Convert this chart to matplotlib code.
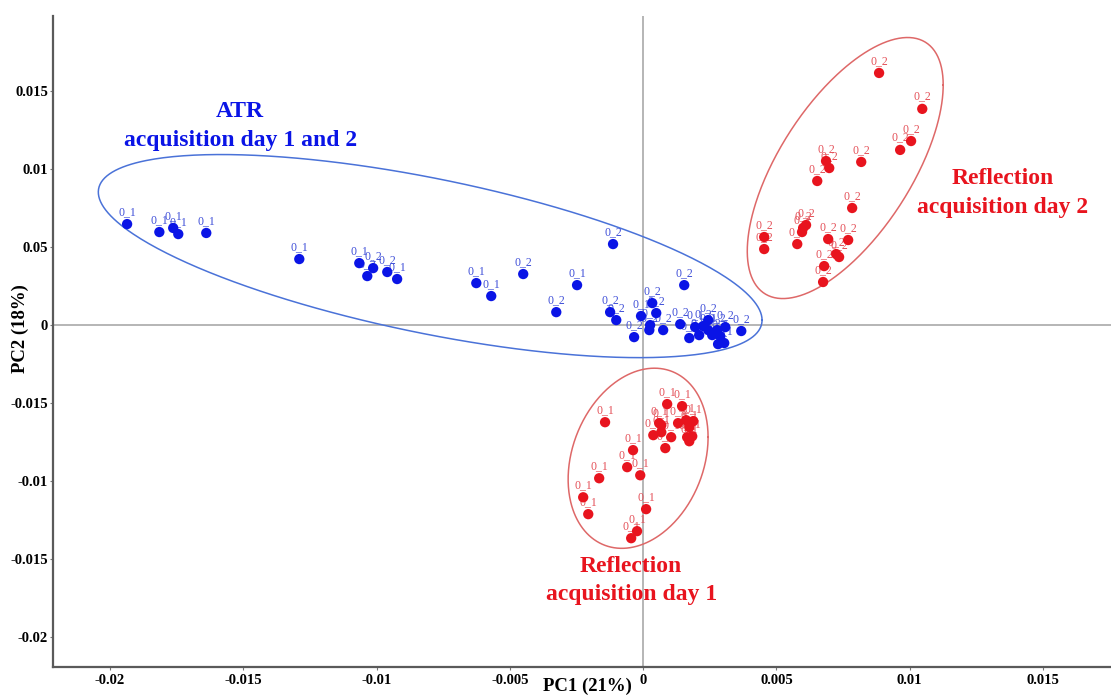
import numpy as np
import matplotlib
matplotlib.use("Agg")
import matplotlib.pyplot as plt

plt.rcParams['font.family'] = ['Liberation Serif', 'DejaVu Serif']

# ATR spectra (acquisition day 1 and 2)
atr_pc1 = [-0.01936, -0.01815, -0.01763, -0.01744, -0.01639, -0.01290, -0.01065,
           -0.01035, -0.01013, -0.00960, -0.00923, -0.00626, -0.00570, -0.00450,
           -0.00248, -0.00326, -0.00113, 0.00154, 0.00368, -0.00124, -0.00101,
           -0.00034, -0.00008, 0.00034, 0.00049, 0.00023, 0.00026, 0.00075,
           0.00139, 0.00173, 0.00195, 0.00210, 0.00244, 0.00244, 0.00259,
           0.00278, 0.00289, 0.00281, 0.00304, 0.00308, 0.00225]
atr_pc2 = [0.00647, 0.00596, 0.00622, 0.00583, 0.00590, 0.00423, 0.00397,
           0.00314, 0.00365, 0.00340, 0.00295, 0.00269, 0.00186, 0.00327,
           0.00256, 0.00083, 0.00519, 0.00256, -0.00038, 0.00083, 0.00032,
           -0.00077, 0.00058, 0.00141, 0.00077, -0.00032, 0.00000, -0.00032,
           0.00006, -0.00083, -0.00013, -0.00064, 0.00032, -0.00032, -0.00064,
           -0.00032, -0.00071, -0.00122, -0.00115, -0.00013, -0.00006]
atr_labels = ["0_1", "0_1", "0_1", "0_1", "0_1", "0_1", "0_1", "0_2", "0_2", "0_2",
              "0_1", "0_1", "0_1", "0_2", "0_1", "0_2", "0_2", "0_2", "0_2", "0_2",
              "0_2", "0_2", "0_1", "0_2", "0_2", "0_2", "0_1", "0_2", "0_2", "0_2",
              "0_1", "0_2", "0_2", "0_1", "0_2", "0_2", "0_1", "0_1", "0_1", "0_2",
              "0_2"]

# Reflection spectra, acquisition day 1
refl1_pc1 = [-0.00143, 0.00090, 0.00146, 0.00060, 0.00038, 0.00068, 0.00105,
             0.00083, 0.00131, 0.00161, 0.00188, 0.00173, 0.00165, 0.00173,
             0.00184, -0.00038, -0.00060, -0.00011, -0.00165, -0.00225,
             -0.00206, 0.00011, -0.00023, -0.00045, 0.00068]
refl1_pc2 = [-0.00622, -0.00506, -0.00519, -0.00628, -0.00705, -0.00686, -0.00718,
             -0.00788, -0.00628, -0.00609, -0.00615, -0.00654, -0.00718, -0.00744,
             -0.00712, -0.00801, -0.00910, -0.00962, -0.00981, -0.01103,
             -0.01211, -0.01179, -0.01320, -0.01365, -0.00641]
refl1_labels = ["0_1"] * len(refl1_pc1)

# Reflection spectra, acquisition day 2
refl2_pc1 = [0.00885, 0.01047, 0.01005, 0.00964, 0.00818, 0.00686, 0.00698,
             0.00653, 0.00784, 0.00611, 0.00600, 0.00596, 0.00578, 0.00454,
             0.00454, 0.00694, 0.00769, 0.00724, 0.00735, 0.00679, 0.00675]
refl2_pc2 = [0.01615, 0.01385, 0.01179, 0.01122, 0.01045, 0.01051, 0.01006,
             0.00923, 0.00750, 0.00641, 0.00622, 0.00596, 0.00519, 0.00564,
             0.00487, 0.00551, 0.00545, 0.00455, 0.00436, 0.00378, 0.00276]
refl2_labels = ["0_2"] * len(refl2_pc1)

# Group ellipses: centre and two conjugate semi-axis vectors (PC1, PC2)
atr_ellipse = dict(center=(-0.00799, 0.00442), u=(0.01245, -0.00410), v=(0.0, 0.00505))
refl1_ellipse = dict(center=(-0.00019, -0.00853), u=(0.002625, 0.001346), v=(0.0, 0.00561))
refl2_ellipse = dict(center=(0.00758, 0.01006), u=(0.003675, 0.00532), v=(0.0, 0.00645))

x_ticks = [-0.02, -0.015, -0.01, -0.005, 0, 0.005, 0.01, 0.015]
x_tick_labels = ["-0.02", "-0.015", "-0.01", "-0.005", "0", "0.005", "0.01", "0.015"]
y_ticks = [0.015, 0.01, 0.005, 0, -0.005, -0.01, -0.015, -0.02]
y_tick_labels = ["0.015", "0.01", "0.05", "0", "-0.015", "-0.01", "-0.015", "-0.02"]

BLUE = "#0a14e6"
RED = "#e8141e"

fig = plt.figure(figsize=(11.11, 6.95), dpi=100)
ax = fig.add_axes([0.0477, 0.0403, 0.9523, 0.9367])
ax.set_xlim(-0.02214, 0.01755)
ax.set_ylim(-0.0219, 0.0198)

# origin cross-hair
ax.axhline(0, color="#b0b0b0", lw=1.3, zorder=0)
ax.axvline(0, color="#b0b0b0", lw=1.3, zorder=0)


def draw_ellipse(e, color):
    t = np.linspace(0, 2 * np.pi, 400)
    cx, cy = e["center"]
    ux, uy = e["u"]
    vx, vy = e["v"]
    ax.plot(cx + ux * np.cos(t) + vx * np.sin(t),
            cy + uy * np.cos(t) + vy * np.sin(t), color=color, lw=1.1, zorder=1)


draw_ellipse(atr_ellipse, "#4a72d8")
draw_ellipse(refl1_ellipse, "#de6868")
draw_ellipse(refl2_ellipse, "#de6868")


def draw_group(xs, ys, labels, color, label_color):
    ax.scatter(xs, ys, s=55, color=color, edgecolors="none", zorder=3)
    for x, y, lab in zip(xs, ys, labels):
        ax.annotate(lab, (x, y), xytext=(0, 4.5), textcoords="offset points",
                    ha="center", va="bottom", fontsize=8.5, color=label_color,
                    zorder=2)


draw_group(atr_pc1, atr_pc2, atr_labels, BLUE, "#3f4fd8")
draw_group(refl1_pc1, refl1_pc2, refl1_labels, RED, "#e45058")
draw_group(refl2_pc1, refl2_pc2, refl2_labels, RED, "#e45058")

# group captions
CAPTION = dict(fontsize=17, fontweight="bold", ha="center", va="center")
ax.text(-0.01512, 0.01371, "ATR", color=BLUE, **CAPTION)
ax.text(-0.01512, 0.01185, "acquisition day 1 and 2", color=BLUE, **CAPTION)
ax.text(0.01347, 0.00937, "Reflection", color=RED, **CAPTION)
ax.text(0.01347, 0.00751, "acquisition day 2", color=RED, **CAPTION)
ax.text(-0.00045, -0.01548, "Reflection", color=RED, **CAPTION)
ax.text(-0.00045, -0.01728, "acquisition day 1", color=RED, **CAPTION)

ax.set_xticks(x_ticks)
ax.set_xticklabels(x_tick_labels)
ax.set_yticks(y_ticks)
ax.set_yticklabels(y_tick_labels)
ax.tick_params(axis="both", length=2, width=0.8, color="#777777", labelsize=10.5)
ax.tick_params(axis="y", pad=1.5)
ax.tick_params(axis="x", pad=3)
for lab in ax.get_xticklabels() + ax.get_yticklabels():
    lab.set_fontweight("bold")

for side in ("top", "right"):
    ax.spines[side].set_visible(False)
for side in ("left", "bottom"):
    ax.spines[side].set_color("#5a5a5a")
    ax.spines[side].set_linewidth(1.6)

ax.set_xlabel("PC1 (21%)", fontsize=13.5, fontweight="bold")
ax.xaxis.set_label_coords(0.505, -0.017)
ax.xaxis.label.set_va("top")
ax.set_ylabel("PC2 (18%)", fontsize=13.5, fontweight="bold")
ax.yaxis.set_label_coords(-0.0225, 0.52)

fig.savefig("out.png", dpi=100)
